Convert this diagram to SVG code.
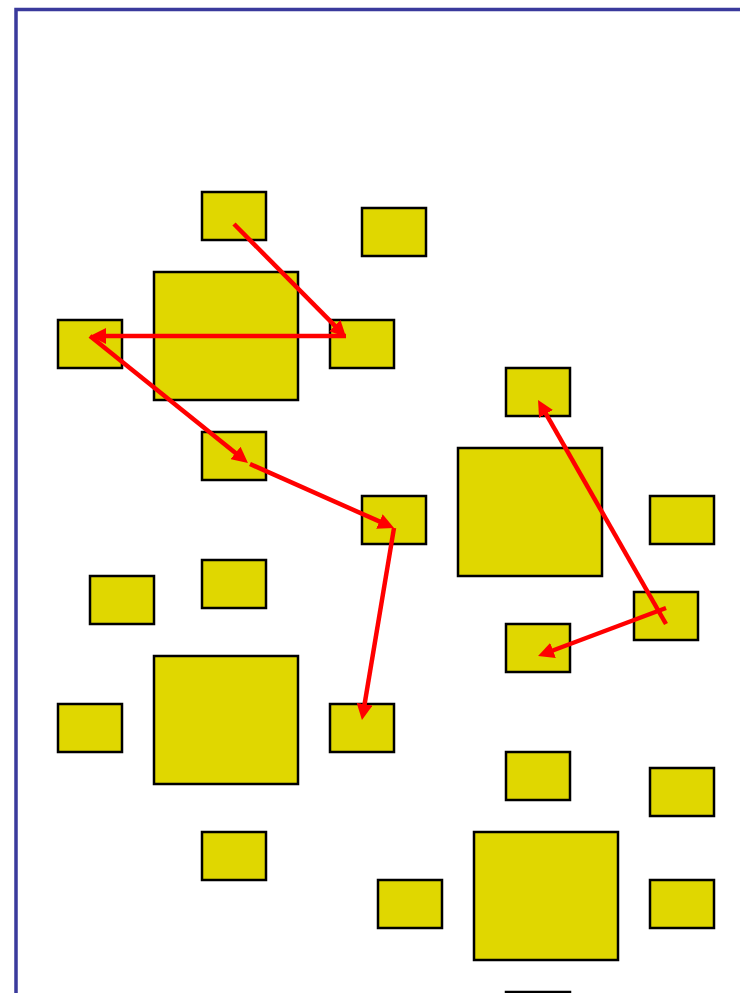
<svg xmlns="http://www.w3.org/2000/svg" width="740" height="993" viewBox="0 0 740 993">
<style>
.n{fill:#E0D700;stroke:#000;stroke-width:2.5}
.c{stroke:#FF0000;stroke-width:4.5;fill:none;marker-end:url(#ah)}
</style>
<defs>
<marker id="ah" markerUnits="userSpaceOnUse" markerWidth="16" markerHeight="16" refX="6" refY="8" orient="auto">
<path d="M0,0 L16,8 L0,16 z" fill="#FF0000"/>
</marker>
</defs>
<rect width="740" height="993" fill="#fff"/>
<path d="M16,993 V9.5 H740" fill="none" stroke="#3A3A9C" stroke-width="3.5"/>
<g id="g1">
<rect id="g1-big" class="n" x="154" y="272" width="144" height="128"/>
<rect id="g1-top" class="n" x="202" y="192" width="64" height="48"/>
<rect id="g1-left" class="n" x="58" y="320" width="64" height="48"/>
<rect id="g1-right" class="n" x="330" y="320" width="64" height="48"/>
<rect id="g1-bottom" class="n" x="202" y="432" width="64" height="48"/>
<rect id="g1-extra" class="n" x="362" y="208" width="64" height="48"/>
</g>
<g id="g2">
<rect id="g2-big" class="n" x="154" y="656" width="144" height="128"/>
<rect id="g2-top" class="n" x="202" y="560" width="64" height="48"/>
<rect id="g2-left" class="n" x="58" y="704" width="64" height="48"/>
<rect id="g2-right" class="n" x="330" y="704" width="64" height="48"/>
<rect id="g2-bottom" class="n" x="202" y="832" width="64" height="48"/>
<rect id="g2-extra" class="n" x="90" y="576" width="64" height="48"/>
</g>
<g id="g3">
<rect id="g3-big" class="n" x="458" y="448" width="144" height="128"/>
<rect id="g3-top" class="n" x="506" y="368" width="64" height="48"/>
<rect id="g3-left" class="n" x="362" y="496" width="64" height="48"/>
<rect id="g3-right" class="n" x="634" y="592" width="64" height="48"/>
<rect id="g3-bottom" class="n" x="506" y="624" width="64" height="48"/>
<rect id="g3-extra" class="n" x="650" y="496" width="64" height="48"/>
</g>
<g id="g4">
<rect id="g4-big" class="n" x="474" y="832" width="144" height="128"/>
<rect id="g4-top" class="n" x="506" y="752" width="64" height="48"/>
<rect id="g4-left" class="n" x="378" y="880" width="64" height="48"/>
<rect id="g4-right" class="n" x="650" y="880" width="64" height="48"/>
<rect id="g4-bottom" class="n" x="506" y="992" width="64" height="48"/>
<rect id="g4-extra" class="n" x="650" y="768" width="64" height="48"/>
</g>
<g id="connectors">
<path class="c" d="M234,224 L339,329.9"/>
<path class="c" d="M346,336 L100,336"/>
<path class="c" d="M90,336 L240.2,456.7"/>
<path class="c" d="M250,464 L384.9,523.9"/>
<path class="c" d="M394,528 L363.6,710.1"/>
<path class="c" d="M666,624 L543,408.7"/>
<path class="c" d="M666,608 L547.4,652.5"/>
</g>
</svg>
